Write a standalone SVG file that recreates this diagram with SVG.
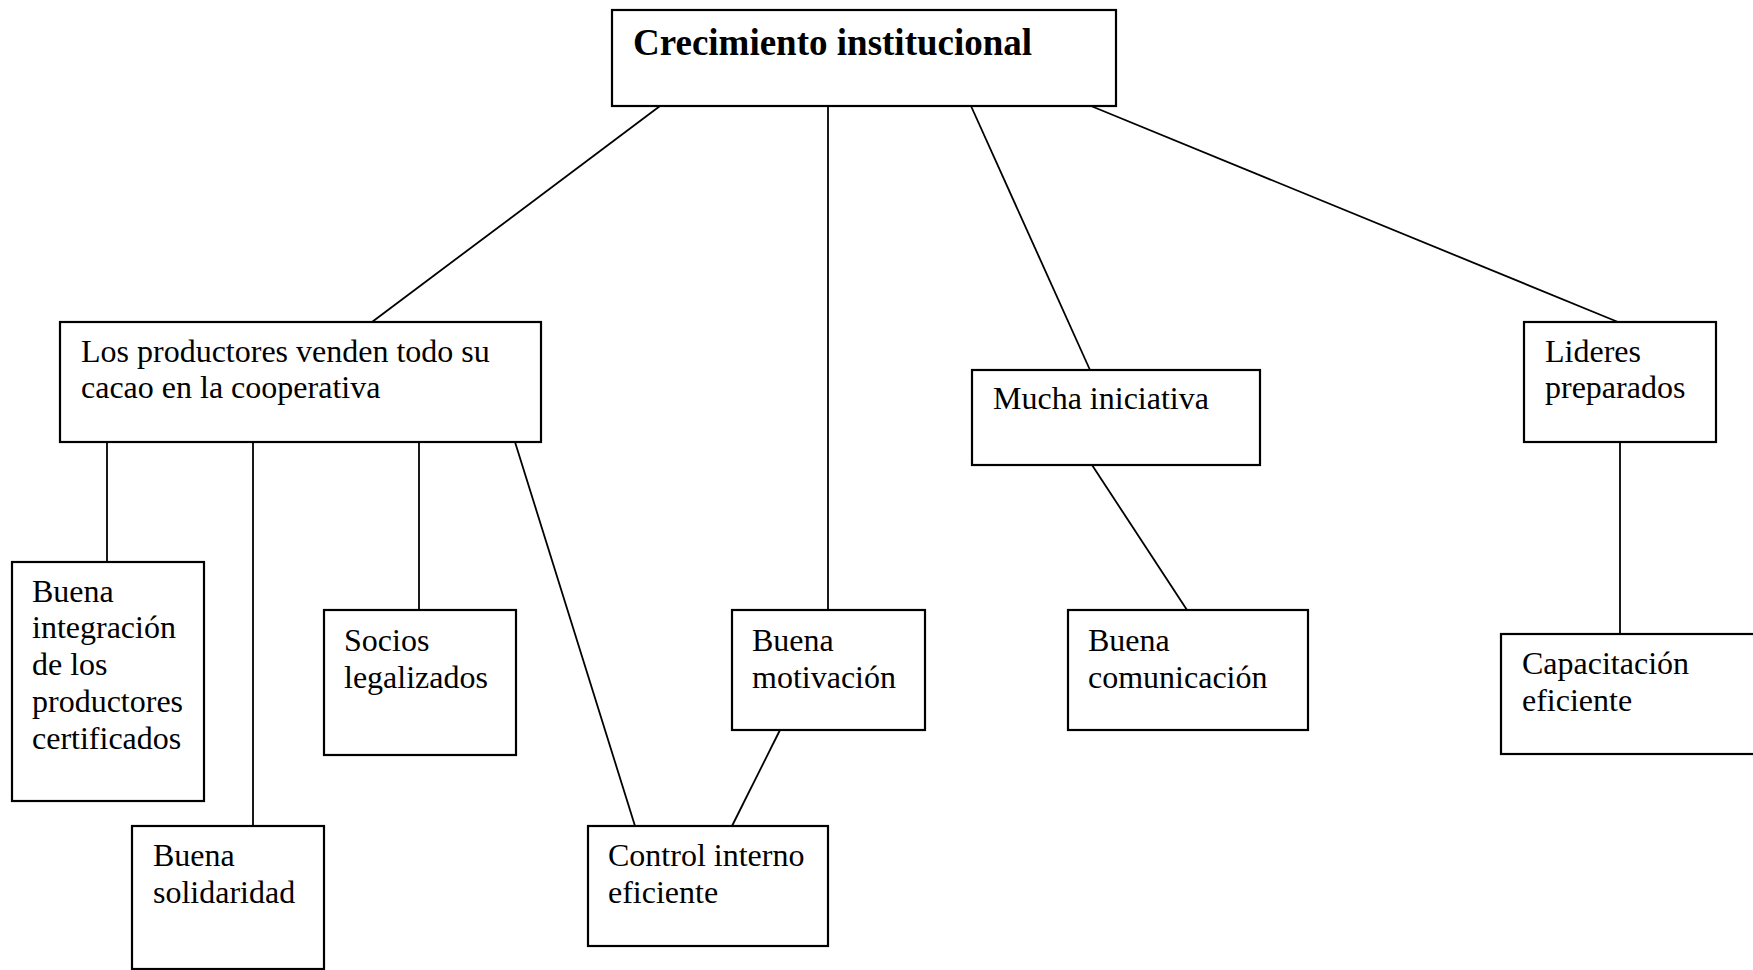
<svg xmlns="http://www.w3.org/2000/svg" width="1753" height="970" viewBox="0 0 1753 970">
<style>
.box{fill:#fff;stroke:#000;stroke-width:2.2}
.lnk{stroke:#000;stroke-width:1.8;fill:none}
.t{font-family:"Liberation Serif","Times New Roman",serif;font-size:32px;fill:#000}
.tb{font-family:"Liberation Serif","Times New Roman",serif;font-size:37px;font-weight:bold;fill:#000}
</style>
<rect width="1753" height="970" fill="#fff"/>
<g id="connectors">
<line class="lnk" x1="660" y1="106" x2="372" y2="322"/>
<line class="lnk" x1="828" y1="106" x2="828" y2="610"/>
<line class="lnk" x1="971" y1="106" x2="1090" y2="370"/>
<line class="lnk" x1="1091" y1="106" x2="1618" y2="322"/>
<line class="lnk" x1="107" y1="442" x2="107" y2="562"/>
<line class="lnk" x1="253" y1="442" x2="253" y2="826"/>
<line class="lnk" x1="419" y1="442" x2="419" y2="610"/>
<line class="lnk" x1="515" y1="442" x2="635" y2="826"/>
<line class="lnk" x1="780" y1="730" x2="732" y2="826"/>
<line class="lnk" x1="1092" y1="465" x2="1187" y2="610"/>
<line class="lnk" x1="1620" y1="442" x2="1620" y2="634"/>
</g>
<g id="n-crecimiento">
<rect class="box" x="612" y="10" width="504" height="96"/>
<text class="tb" x="633" y="55">Crecimiento institucional</text>
</g>
<g id="n-productores">
<rect class="box" x="60" y="322" width="481" height="120"/>
<text class="t" x="81" y="362">Los productores venden todo su</text>
<text class="t" x="81" y="398">cacao en la cooperativa</text>
</g>
<g id="n-iniciativa">
<rect class="box" x="972" y="370" width="288" height="95"/>
<text class="t" x="993" y="409">Mucha iniciativa</text>
</g>
<g id="n-lideres">
<rect class="box" x="1524" y="322" width="192" height="120"/>
<text class="t" x="1545" y="362">Lideres</text>
<text class="t" x="1545" y="398">preparados</text>
</g>
<g id="n-integracion">
<rect class="box" x="12" y="562" width="192" height="239"/>
<text class="t" x="32" y="602">Buena</text>
<text class="t" x="32" y="638">integración</text>
<text class="t" x="32" y="675">de los</text>
<text class="t" x="32" y="712">productores</text>
<text class="t" x="32" y="749">certificados</text>
</g>
<g id="n-solidaridad">
<rect class="box" x="132" y="826" width="192" height="143"/>
<text class="t" x="153" y="866">Buena</text>
<text class="t" x="153" y="903">solidaridad</text>
</g>
<g id="n-socios">
<rect class="box" x="324" y="610" width="192" height="145"/>
<text class="t" x="344" y="651">Socios</text>
<text class="t" x="344" y="688">legalizados</text>
</g>
<g id="n-motivacion">
<rect class="box" x="732" y="610" width="193" height="120"/>
<text class="t" x="752" y="651">Buena</text>
<text class="t" x="752" y="688">motivación</text>
</g>
<g id="n-control">
<rect class="box" x="588" y="826" width="240" height="120"/>
<text class="t" x="608" y="866">Control interno</text>
<text class="t" x="608" y="903">eficiente</text>
</g>
<g id="n-comunicacion">
<rect class="box" x="1068" y="610" width="240" height="120"/>
<text class="t" x="1088" y="651">Buena</text>
<text class="t" x="1088" y="688">comunicación</text>
</g>
<g id="n-capacitacion">
<rect class="box" x="1501" y="634" width="260" height="120"/>
<text class="t" x="1522" y="674">Capacitación</text>
<text class="t" x="1522" y="711">eficiente</text>
</g>
</svg>
